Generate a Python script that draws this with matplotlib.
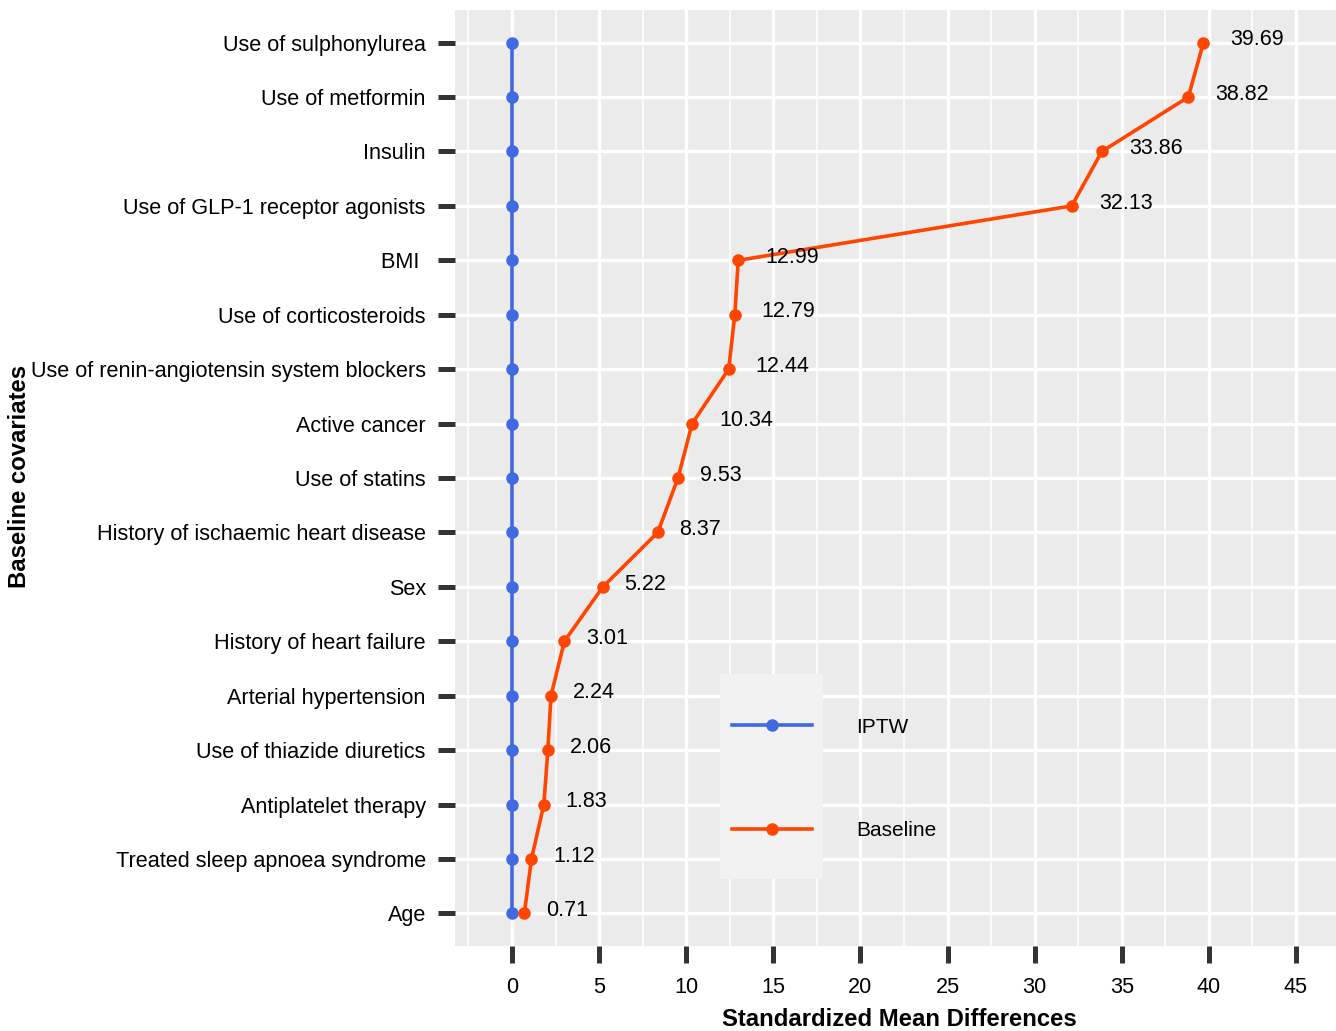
import matplotlib.pyplot as plt
from matplotlib.patches import Rectangle

plt.rcParams['font.family'] = ['Liberation Sans', 'DejaVu Sans']

covariates = ["Age", "Treated sleep apnoea syndrome", "Antiplatelet therapy",
              "Use of thiazide diuretics", "Arterial hypertension",
              "History of heart failure", "Sex", "History of ischaemic heart disease",
              "Use of statins", "Active cancer",
              "Use of renin-angiotensin system blockers", "Use of corticosteroids",
              "BMI ", "Use of GLP-1 receptor agonists", "Insulin",
              "Use of metformin", "Use of sulphonylurea"]
baseline = [0.71, 1.12, 1.83, 2.06, 2.24, 3.01, 5.22, 8.37, 9.53, 10.34,
            12.44, 12.79, 12.99, 32.13, 33.86, 38.82, 39.69]
iptw = [0] * len(covariates)
xticks = [0, 5, 10, 15, 20, 25, 30, 35, 40, 45]

blue = "#4169E1"
red = "#FF4500"

fig = plt.figure(figsize=(13.36, 10.31), dpi=100)
ax = fig.add_axes([455 / 1336, 1 - 946 / 1031, 881 / 1336, 936 / 1031])
ax.set_facecolor("#EBEBEB")
for s in ax.spines.values():
    s.set_visible(False)

ypos = list(range(len(covariates)))

# grid
for x in xticks:
    ax.axvline(x, color="white", lw=2.4, zorder=0)
for x in [-2.5] + [t + 2.5 for t in xticks]:
    ax.axvline(x, color="white", lw=1.1, zorder=0)
for y in ypos:
    ax.axhline(y, color="white", lw=2.4, zorder=0)

# legend key background
ax.add_patch(Rectangle((265 / 881, (946 - 879) / 936), 103 / 881, 205 / 936,
                       transform=ax.transAxes, facecolor="#F2F2F2",
                       edgecolor="none", zorder=1))

ax.plot(iptw, ypos, color=blue, lw=2.6, marker="o", ms=8, label="IPTW", zorder=3)
ax.plot(baseline, ypos, color=red, lw=2.6, marker="o", ms=8, label="Baseline", zorder=4)

for v, y in zip(baseline, ypos):
    lab = f"{v:.2f}"
    ax.annotate(lab, (v, y), xytext=(3.9 * len(lab), 2), textcoords="offset points",
                ha="left", va="center", fontsize=15.5, color="black", zorder=5)

ax.set_xlim(-3.27, 47.3)
ax.set_ylim(-0.6, len(covariates) - 0.4)
ax.set_xticks(xticks)
ax.set_yticks(ypos)
ax.set_yticklabels(covariates)
ax.tick_params(axis="both", length=12, width=3.6, color="#333333",
               labelsize=15.6, labelcolor="black")
ax.tick_params(axis="y", pad=9)
ax.tick_params(axis="x", pad=10)

ax.set_xlabel("Standardized Mean Differences", fontsize=17.2, fontweight="bold")
ax.set_ylabel("Baseline covariates", fontsize=17.2, fontweight="bold")
ax.xaxis.set_label_coords(0.504, -0.066)
ax.yaxis.set_label_coords(-0.481, 0.5016)

leg = ax.legend(loc="upper left", bbox_to_anchor=(0.3144, 0.244), frameon=False,
                handlelength=3.85, handletextpad=2.1, labelspacing=4.06,
                borderpad=0, borderaxespad=0, fontsize=15)
leg.set_zorder(6)

fig.savefig("out.png", dpi=100)
